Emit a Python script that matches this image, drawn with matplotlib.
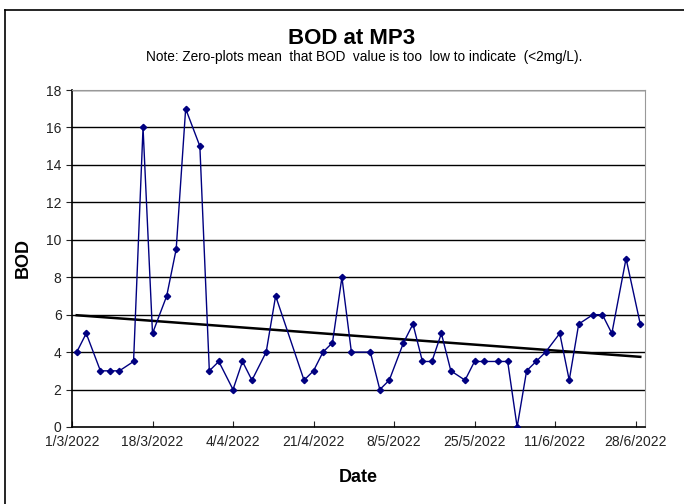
import numpy as np
import pandas as pd
import matplotlib
matplotlib.use("Agg")
import matplotlib.pyplot as plt
import matplotlib.dates as mdates

plt.rcParams['font.family'] = ['Liberation Sans', 'DejaVu Sans']

# sample dates and BOD values (mg/L)
dates = ["2022-03-02", "2022-03-04", "2022-03-07", "2022-03-09", "2022-03-11",
         "2022-03-14", "2022-03-16", "2022-03-18", "2022-03-21", "2022-03-23",
         "2022-03-25", "2022-03-28", "2022-03-30", "2022-04-01", "2022-04-04",
         "2022-04-06", "2022-04-08", "2022-04-11", "2022-04-13", "2022-04-19",
         "2022-04-21", "2022-04-23", "2022-04-25", "2022-04-27", "2022-04-29",
         "2022-05-03", "2022-05-05", "2022-05-07", "2022-05-10", "2022-05-12",
         "2022-05-14", "2022-05-16", "2022-05-18", "2022-05-20", "2022-05-23",
         "2022-05-25", "2022-05-27", "2022-05-30", "2022-06-01", "2022-06-03",
         "2022-06-05", "2022-06-07", "2022-06-09", "2022-06-12", "2022-06-14",
         "2022-06-16", "2022-06-19", "2022-06-21", "2022-06-23", "2022-06-26",
         "2022-06-29"]
bod = [4, 5, 3, 3, 3,
       3.5, 16, 5, 7, 9.5,
       17, 15, 3, 3.5, 2,
       3.5, 2.5, 4, 7, 2.5,
       3, 4, 4.5, 8, 4,
       4, 2, 2.5, 4.5, 5.5,
       3.5, 3.5, 5, 3, 2.5,
       3.5, 3.5, 3.5, 3.5, 0,
       3, 3.5, 4, 5, 2.5,
       5.5, 6, 6, 5, 9,
       5.5]
tick_dates = ["2022-03-01", "2022-03-18", "2022-04-04", "2022-04-21",
              "2022-05-08", "2022-05-25", "2022-06-11", "2022-06-28"]
tick_labels = ["1/3/2022", "18/3/2022", "4/4/2022", "21/4/2022",
               "8/5/2022", "25/5/2022", "11/6/2022", "28/6/2022"]

x = pd.to_datetime(dates)
xn = mdates.date2num(x)

fig = plt.figure(figsize=(6.84, 5.04), dpi=100)
ax = fig.add_axes([72/684, 1-427/504, (645-72)/684, (427-90)/504])

# chart area border (left and top visible)
fig.add_artist(plt.Line2D([5/684, 5/684], [0, 1-10/504], color='black', lw=1.2,
                          transform=fig.transFigure))
fig.add_artist(plt.Line2D([5/684, 1], [1-10/504, 1-10/504], color='black', lw=1.2,
                          transform=fig.transFigure))

for yv in range(2, 19, 2):
    ax.axhline(yv, color='black', lw=1, zorder=1)

ax.plot(xn, bod, color='#000080', lw=1, marker='D', markersize=3.2,
        markerfacecolor='#000080', markeredgecolor='#000080', zorder=3)

# linear trend line
k, b = np.polyfit(xn, bod, 1)
ax.plot([xn[0], xn[-1]], [k*xn[0]+b, k*xn[-1]+b], color='black', lw=1.8, zorder=2)

ax.set_xlim(mdates.date2num(pd.Timestamp("2022-03-01")),
            mdates.date2num(pd.Timestamp("2022-06-30")))
ax.set_ylim(0, 18)
ax.set_yticks(range(0, 19, 2))
ax.set_xticks(mdates.date2num(pd.to_datetime(tick_dates)))
ax.set_xticklabels(tick_labels)
ax.tick_params(axis='x', direction='in', length=4, labelsize=10, pad=6, colors='#222222')
ax.tick_params(axis='y', direction='out', length=4, labelsize=10, colors='#222222')
for s in ['top', 'right']:
    ax.spines[s].set_color('#999999')
for s in ['left', 'bottom']:
    ax.spines[s].set_color('black')
    ax.spines[s].set_linewidth(1.2)

ax.set_xlabel("Date", fontsize=13, fontweight='bold', labelpad=14)
ax.set_ylabel("BOD", fontsize=13, fontweight='bold', labelpad=10)

fig.text(352/684, 1-38/504, "BOD at MP3", ha='center', va='center',
         fontsize=16, fontweight='bold')
fig.text(364/684, 1-57/504,
         "Note: Zero-plots mean  that BOD  value is too  low to indicate  (<2mg/L).",
         ha='center', va='center', fontsize=9.8)

fig.savefig("out.png", dpi=100)
